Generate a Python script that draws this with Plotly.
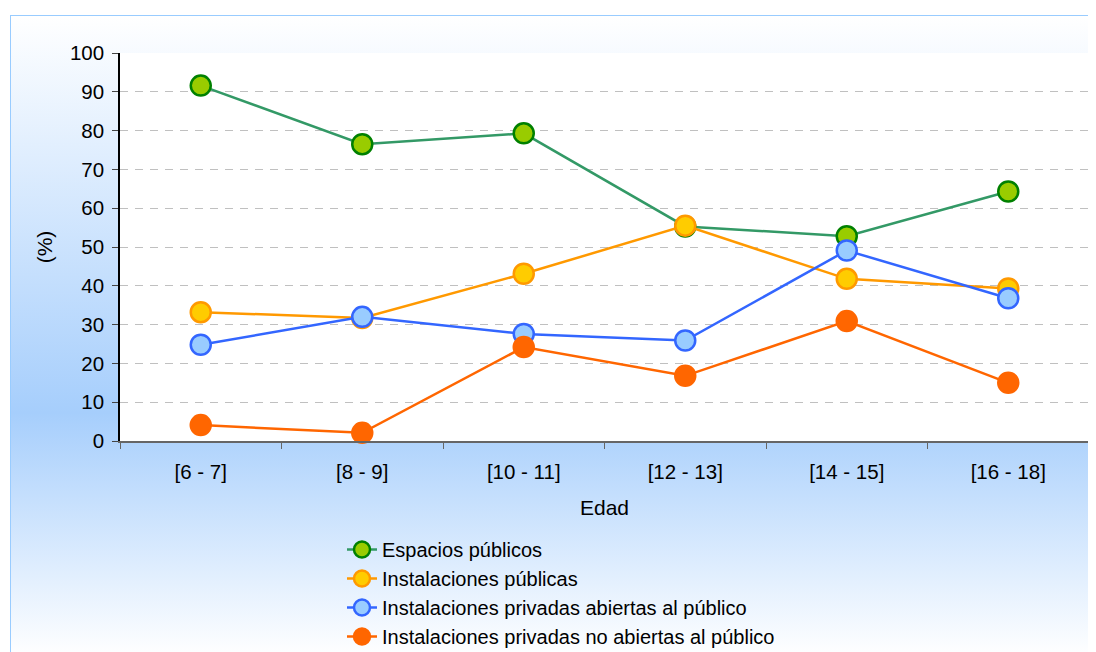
import base64
import plotly.graph_objects as go

categories = ["[6 - 7]", "[8 - 9]", "[10 - 11]", "[12 - 13]", "[14 - 15]", "[16 - 18]"]
espacios_publicos = [91.6, 76.5, 79.3, 55.3, 52.8, 64.3]
instalaciones_publicas = [33.2, 31.7, 43.1, 55.5, 41.8, 39.3]
privadas_abiertas = [24.8, 32.0, 27.6, 25.9, 49.1, 36.8]
privadas_no_abiertas = [4.1, 2.1, 24.2, 16.8, 30.9, 15.0]
y_ticks = [0, 10, 20, 30, 40, 50, 60, 70, 80, 90, 100]

series = [
    ("Espacios públicos", espacios_publicos, "#339966", "#99cc00", "#008000"),
    ("Instalaciones públicas", instalaciones_publicas, "#ff9900", "#ffcc00", "#ff9900"),
    ("Instalaciones privadas abiertas al público", privadas_abiertas, "#3366ff", "#99ccff", "#3366ff"),
    ("Instalaciones privadas no abiertas al público", privadas_no_abiertas, "#ff6600", "#ff6600", "#ff6600"),
]

FONT = "Liberation Sans, Arial, sans-serif"

fig = go.Figure()
for name, vals, lc, fc, bc in series:
    fig.add_trace(go.Scatter(
        x=categories, y=vals, name=name, mode="lines+markers",
        line=dict(color=lc, width=2.5),
        marker=dict(size=20, color=fc, line=dict(color=bc, width=2.5)),
        cliponaxis=False,
    ))

# Page has an 8px body margin, so the figure is 1088x644 starting at (8,8)
W, H = 1088, 644
l, r, t, b = 112, 7, 45, 211
pw, ph = W - l - r, H - t - b

# Decorative gradient background box
bx0, by0 = 2, 7
bw, bh = W - bx0, H - by0
svg = (
    f"<svg xmlns='http://www.w3.org/2000/svg' width='{bw}' height='{bh}' viewBox='0 0 {bw} {bh}' preserveAspectRatio='none'>"
    "<defs><linearGradient id='g' x1='0' y1='0' x2='0' y2='1'>"
    "<stop offset='0' stop-color='#ffffff'/>"
    "<stop offset='0.62' stop-color='#a6cefc'/>"
    "<stop offset='1' stop-color='#ffffff'/>"
    "</linearGradient></defs>"
    f"<rect x='0.5' y='0.5' width='{bw + 4}' height='{bh + 4}' fill='url(#g)' stroke='#99ccff' stroke-width='1'/>"
    "</svg>"
)
src = "data:image/svg+xml;base64," + base64.b64encode(svg.encode()).decode()
fig.add_layout_image(dict(
    source=src, xref="paper", yref="paper",
    x=(bx0 - l) / pw, y=(H - b - by0) / ph,
    sizex=bw / pw, sizey=bh / ph,
    xanchor="left", yanchor="top", sizing="stretch", layer="below",
))
fig.add_shape(type="rect", xref="paper", yref="paper", x0=0, x1=1, y0=0, y1=1,
              fillcolor="white", line=dict(width=0), layer="below")

legend_left = 334
legend_top = 522
fig.update_layout(
    width=W, height=H,
    margin=dict(l=l, r=r, t=t, b=b, pad=0, autoexpand=False),
    paper_bgcolor="white", plot_bgcolor="white",
    font=dict(family=FONT, size=21, color="black"),
    showlegend=True,
    legend=dict(
        x=(legend_left - l) / pw, y=-(legend_top - (H - b)) / ph,
        xanchor="left", yanchor="top",
        bgcolor="rgba(0,0,0,0)", font=dict(size=20, family=FONT),
        tracegroupgap=0,
    ),
    xaxis=dict(
        type="category", range=[-0.5, 5.5],
        showline=True, linecolor="#666666", linewidth=1.5,
        ticks="outside", tickson="boundaries", ticklen=6, tickcolor="#666666", tickwidth=1,
        ticklabelstandoff=12,
        showgrid=False, zeroline=False,
        title=dict(text="Edad", font=dict(size=21), standoff=18),
        tickfont=dict(size=20.5),
    ),
    yaxis=dict(
        range=[0, 100], tickvals=y_ticks,
        showline=True, linecolor="black", linewidth=1.5,
        ticks="outside", ticklen=6, tickcolor="#444444",
        ticklabelstandoff=4,
        showgrid=True, gridcolor="#c0c0c0", gridwidth=1, griddash="8px,7px",
        zeroline=False,
        title=dict(text="(%)", font=dict(size=21), standoff=12),
        tickfont=dict(size=20.5),
    ),
)

fig.write_html("out.html")
